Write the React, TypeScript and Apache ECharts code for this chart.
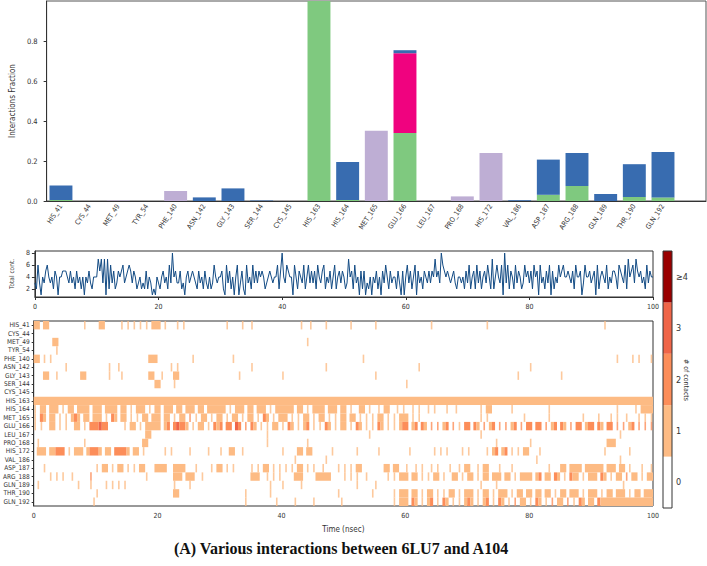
import React, { useEffect, useRef } from "react";
import * as echarts from "echarts";

// ---------- Top panel: interaction fractions ----------
const residues = [
  "HIS_41", "CYS_44", "MET_49", "TYR_54", "PHE_140", "ASN_142", "GLY_143", "SER_144",
  "CYS_145", "HIS_163", "HIS_164", "MET_165", "GLU_166", "LEU_167", "PRO_168", "HIS_172",
  "VAL_186", "ASP_187", "ARG_188", "GLN_189", "THR_190", "GLN_192",
];
const hBonds = [0.005, 0, 0, 0, 0, 0, 0, 0, 0, 1.0, 0.005, 0, 0.34, 0, 0, 0, 0, 0.031, 0.075, 0, 0.02, 0.018];
const hydrophobic = [0, 0, 0.003, 0, 0.05, 0, 0, 0, 0, 0, 0, 0.351, 0, 0, 0.023, 0.24, 0, 0, 0, 0, 0, 0];
const ionic = [0, 0, 0, 0, 0, 0, 0, 0, 0, 0, 0, 0, 0.399, 0, 0, 0, 0, 0, 0, 0, 0, 0];
const waterBridges = [0.073, 0, 0, 0, 0, 0.018, 0.063, 0.003, 0, 0, 0.19, 0, 0.015, 0, 0, 0, 0.004, 0.176, 0.165, 0.035, 0.164, 0.227];
const barColors = { hBonds: "#7fc97f", hydrophobic: "#beaed4", ionic: "#f0027f", water: "#386cb0" };
const fractionTicks = [0, 0.2, 0.4, 0.6, 0.8];

// ---------- Middle panel: total contacts per time sample (0.25 ns step) ----------
const timeStep = 0.25;
const totalContactsDigits = [
  "32631435643425414455", "54353425342414353244", "47573717263523545634", "56535423423252431214",
  "32453426384533523145", "34543253425324236434", "45216352414613521634", "26353545423454344625",
  "84365441642543624635", "35264356243524624535", "42374526341525132414", "35241536425344253151",
  "46352461534254353547", "45386545434532443425", "36245263524536427246", "43618362542635423645",
  "35264516342536152436", "45644543526445136445", "34516245436243554265", "43627456375453426354",
  "4",
];
const totalTicks = [2, 4, 6, 8];

// ---------- Bottom panel: contacts per residue over time (0.5 ns bins, 20 bins per chunk) ----------
const binWidth = 0.5;
const binsPerChunk = 20;
const heatRows: string[][] = [
  ["11.11...........1...", ".11.....1.1.1.1.1.11", "1.1...1.1...........", "..1....1..1.........", "......1..1....1.....", "..1.......1.........", "........1...........", "......1.............", "", "....1..............."],
  ["", "", "", "", "", "", "", "", "", ""],
  ["......11............", "", "", "", "........1...........", "", "", "", "", ""],
  [".......1............", "", "", "", "", "", "", "", "", ""],
  ["11.1.1..............", ".................111", "...........1........", "....1...............", "", "......1.............", "", "", "", "........1....1.1...1"],
  ["..........1.........", "....1..1............", "....1.1.............", "..........1.........", "..............1.....", "", "....1...............", "", "1...................", ""],
  ["...11..1.......11...", "....1...1........11.", ".1...11.............", "......1.............", "1...................", "..........1.........", "", "................1...", "..........1.........", ""],
  ["", "...................1", "1....1..............", "", "", "", "1...................", "", "", ""],
  ["", "", "", "", "", "", "", "", "", ""],
  ["11111111111111111111", "11111111111111111111", "11111111111111111111", "11111111111111111111", "11111111111111111111", "11111111111111111111", "11111111111111111111", "11111111111111111111", "11111111111111111111", "11111111111111111111"],
  ["1.11.111.1.11.1111.1", "11.1111.11.1.111.1.1", "1.111.11.111.11.1111", "11.1.111.11.111.1.11", "1111.11.1.1111.111.1", "1.1..11.1..1.11..1.1", "..1.1..1.1...1..1...", "....1.11......1.....", "......1.............", "........1.....1.1111"],
  ["1.21.11.1.1.121.11.1", "11.1.21.11.1.1.11.11", "1.11.1.11.2.1.11.1.1", "1.1.11.1.11.1.21.1.1", "11.1.1.11.1.11.1.1.1", "1.11.1.1.1.11.1.1.11", "1.1.1...............", "....1.1...........1.", "......1..........1..", "..1...1.1..1...1.1.1"],
  ["1.1..11.1.1..11.1.22", "2322.....1.11.1.1111", "1.12.23221.1.11.1.21", "2.22.32.2.21.1.1.11.", "1.21.1.12.1.1.21.1.1", "1.1.21.1.1.21.1.1.12", "2.12.21.2.2.12.2.1.2", "2.21.2.12.2.2.12.2.2", "2.22.2.12.21.2.22.12", "2.21.22.2.2.12.2.2.2"],
  ["", "................11..", "", "...............1....", "", "........1...........", "", "....1...............", "", ".........1.........."],
  [".1..............1...", "...............11...", "", "...............1....", "........1...........", "", "", ".........1..........", "1...................", ".....111............"],
  [".111.11222.1.111.122", "21.11.22221.11.1....", "..1.1.....1.....1...", "1..11..1............", "1....11.11......1...", "....1......1........", ".1.......1.1.1....1.", "1.....1.12.12.1.1.11", "...1................", "....1.......1......."],
  ["", "", "", "", "....1.........1.....", "", "", "", "..1.................", ".........1.........."],
  ["...1................", "1.11.1.11.1.1.11...1", "111..1111...1....1.1", "1.1.1.....1.1.11.1.1", ".1.1.11.1.1..1....1.", "1.1.11.......11.11..", "1..1.1..1.1...1..1.1", "1..1.11...1...1.....", "......1...11.1111.11", "1111.111.11.1...1..1"],
  [".....1.1.1..1.....2.", "................1...", ".....111.111..1.....", "..........111..1.1.1", "....111....11111....", "1.1.1..1......1.1.11", "1.11.1.1.11.1..11.1.", "11.1.11.111.11.1.111", "1.12.11.21.1.211.1.1", "11.21.1.11.2.11.1.11"],
  [".1............1...1.", "...1.1.1.1..........", ".....1....1.........", "................1...", "1.....1.............", "....1.....1.........", "", "....1....1..........", "", "..........1........."],
  ["", "1...................", ".....11.............", "........1.......1...", "..................1.", ".........1......1.11", "1.11.1.11.1.1.11.1.1", "11.1.11.1.111.1.11.1", "1.11.11.1.11.111.1.1", "11.1.11.111.1.11.111"],
  ["...................1", "", "", "........1.........1.", "....1.....1........1", "................1.11", "1.21.1.12.1.21.1.1.1", "21.1.12.1.21.1.2.11.", "1.21.1.2.11.2.1.21.1", "1.211111111111111111"],
];
const contactLevels = ["0", "1", "2", "3", "\u22654"];
const contactColors = ["#ffffff", "#fdbb84", "#fc8d59", "#ef6548", "#990000"];
const timeTicks = [0, 20, 40, 60, 80, 100];

const caption = "(A) Various interactions between 6LU7 and A104";
const FONT = "'Liberation Sans Narrow', 'DejaVu Sans Condensed', 'DejaVu Sans', sans-serif";

export default function App() {
  const ref = useRef<HTMLDivElement>(null);
  useEffect(() => {
    const chart = echarts.init(ref.current as HTMLDivElement, null, { renderer: "svg" });

    const totalContacts = totalContactsDigits.join("").split("").map((d) => Number(d));
    const lineData = totalContacts.map((v, i) => [i * timeStep, v]);

    const nBins = binsPerChunk * 10;
    const segments: number[][] = [];
    heatRows.forEach((chunks, r) => {
      const bins = new Array(nBins).fill(0);
      chunks.forEach((s, c) => {
        for (let j = 0; j < s.length && j < binsPerChunk; j++) {
          const ch = s[j];
          if (ch >= "1" && ch <= "4") bins[c * binsPerChunk + j] = Number(ch);
        }
      });
      let i = 0;
      while (i < nBins) {
        const v = bins[i];
        if (!v) { i++; continue; }
        let k = i;
        while (k + 1 < nBins && bins[k + 1] === v) k++;
        const iso = k === i && (i === 0 || bins[i - 1] === 0) && (i === nBins - 1 || bins[i + 1] === 0);
        segments.push([i * binWidth, (k + 1) * binWidth, r, v, iso ? 1 : 0]);
        i = k + 1;
      }
    });

    const barCats = [...residues, ""];
    const axisColor = "#333";
    const labelColor = "#333";

    // colorbar geometry
    const cbX = 663, cbTop = 251, cbBottom = 508, cbW = 9;
    const segH = (cbBottom - cbTop) / contactLevels.length;
    const cbGraphics: any[] = [];
    contactLevels.forEach((lab, i) => {
      const y0 = cbBottom - (i + 1) * segH;
      cbGraphics.push({ type: "rect", shape: { x: cbX, y: y0, width: cbW, height: segH }, style: { fill: contactColors[i] }, silent: true });
      cbGraphics.push({ type: "text", x: cbX + cbW + 4, y: y0 + segH / 2, style: { text: lab, fontSize: 9, fill: labelColor, fontFamily: FONT, verticalAlign: "middle", align: "left" } });
    });
    cbGraphics.push({ type: "rect", shape: { x: cbX, y: cbTop, width: cbW, height: cbBottom - cbTop }, style: { fill: "none", stroke: axisColor, lineWidth: 1 }, silent: true });
    cbGraphics.push({ type: "text", x: 686, y: 380, rotation: -Math.PI / 2, style: { text: "# of contacts", fontSize: 7, fill: labelColor, fontFamily: FONT, align: "center", verticalAlign: "middle" } });
    cbGraphics.push({ type: "text", x: 341, y: 548, style: { text: caption, fontSize: 16, fontWeight: "bold", fill: "#111", fontFamily: "'Liberation Serif', 'Times New Roman', serif", align: "center", verticalAlign: "middle" } });

    const heatColor = (v: number) => contactColors[Math.min(v, 4)];

    const option: any = {
      animation: false,
      backgroundColor: "#fff",
      textStyle: { fontFamily: FONT },
      grid: [
        { left: 27, top: 1, width: 679, height: 200, show: true, borderColor: "#555", borderWidth: 1 },
        { left: 30, top: 251, width: 623, height: 46, show: true, borderColor: axisColor, borderWidth: 1 },
        { left: 30, top: 321, width: 623, height: 185, show: true, borderColor: axisColor, borderWidth: 1 },
      ],
      xAxis: [
        {
          type: "category", gridIndex: 0, data: barCats,
          axisLine: { lineStyle: { color: axisColor } },
          axisTick: { alignWithLabel: true, length: 3, interval: (i: number) => i < residues.length, lineStyle: { color: axisColor } },
          axisLabel: { interval: 0, rotate: 57, fontSize: 7, color: labelColor, margin: 4 },
        },
        {
          type: "value", gridIndex: 1, min: 0, max: 100, interval: 20,
          splitLine: { show: false },
          axisLine: { lineStyle: { color: axisColor } },
          axisTick: { length: 3, lineStyle: { color: axisColor } },
          axisLabel: { fontSize: 7, color: labelColor, margin: 6 },
        },
        {
          type: "value", gridIndex: 2, min: 0, max: 100, interval: 20,
          splitLine: { show: false },
          axisLine: { lineStyle: { color: axisColor } },
          axisTick: { length: 3, lineStyle: { color: axisColor } },
          axisLabel: { fontSize: 7, color: labelColor, margin: 6 },
          name: "Time (nsec)", nameLocation: "middle", nameGap: 19,
          nameTextStyle: { fontSize: 8, color: labelColor },
        },
      ],
      yAxis: [
        {
          type: "value", gridIndex: 0, min: 0, max: 1,
          splitLine: { show: false },
          axisLine: { show: true, lineStyle: { color: axisColor } },
          axisTick: { show: true, length: 3, customValues: fractionTicks, lineStyle: { color: axisColor } },
          axisLabel: { fontSize: 7.5, color: labelColor, margin: 9, customValues: fractionTicks, formatter: (v: number) => v.toFixed(1) },
          name: "Interactions Fraction", nameLocation: "middle", nameGap: 19,
          nameTextStyle: { fontSize: 8, color: labelColor },
        },
        {
          type: "value", gridIndex: 1, min: 0.65, max: 8.35,
          splitLine: { show: false },
          axisLine: { show: true, lineStyle: { color: axisColor } },
          axisTick: { show: true, length: 3, customValues: totalTicks, lineStyle: { color: axisColor } },
          axisLabel: { fontSize: 7, color: labelColor, margin: 5, customValues: totalTicks },
          name: "Total cont.", nameLocation: "middle", nameGap: 10,
          nameTextStyle: { fontSize: 6.5, color: labelColor },
        },
        {
          type: "category", gridIndex: 2, data: residues, inverse: true,
          axisLine: { show: true, lineStyle: { color: axisColor } },
          axisTick: { show: true, alignWithLabel: true, length: 2, interval: 0, lineStyle: { color: axisColor } },
          axisLabel: { fontSize: 6.5, color: labelColor, margin: 4, interval: 0 },
        },
      ],
      series: [
        { name: "H-bonds", type: "bar", stack: "f", xAxisIndex: 0, yAxisIndex: 0, barWidth: "80%", data: hBonds, itemStyle: { color: barColors.hBonds } },
        { name: "Hydrophobic", type: "bar", stack: "f", xAxisIndex: 0, yAxisIndex: 0, barWidth: "80%", data: hydrophobic, itemStyle: { color: barColors.hydrophobic } },
        { name: "Ionic", type: "bar", stack: "f", xAxisIndex: 0, yAxisIndex: 0, barWidth: "80%", data: ionic, itemStyle: { color: barColors.ionic } },
        { name: "Water bridges", type: "bar", stack: "f", xAxisIndex: 0, yAxisIndex: 0, barWidth: "80%", data: waterBridges, itemStyle: { color: barColors.water } },
        {
          name: "Total contacts", type: "line", xAxisIndex: 1, yAxisIndex: 1, data: lineData,
          showSymbol: false, symbol: "none", lineStyle: { width: 1, color: "#134b84" }, itemStyle: { color: "#134b84" },
        },
        {
          name: "Contacts", type: "custom", xAxisIndex: 2, yAxisIndex: 2, data: segments,
          encode: { x: [0, 1], y: 2 }, clip: true,
          renderItem: (params: any, api: any) => {
            const s = api.value(0), e = api.value(1), r = api.value(2), v = api.value(3), iso = api.value(4);
            const p0 = api.coord([s, r]);
            const p1 = api.coord([e, r]);
            const h = api.size([0, 1])[1];
            let x = p0[0];
            let w = p1[0] - p0[0];
            if (iso) { const cx = x + w / 2; w = 1.6; x = cx - w / 2; }
            return {
              type: "rect",
              shape: { x, y: p0[1] - h / 2, width: w, height: h },
              style: { fill: heatColor(v), opacity: iso ? 0.8 : 1 },
            };
          },
        },
      ],
      graphic: cbGraphics,
    };
    chart.setOption(option);
    return () => chart.dispose();
  }, []);
  return <div ref={ref} style={{ position: "absolute", left: 0, top: 0, width: 707, height: 566, background: "#fff" }} />;
}
